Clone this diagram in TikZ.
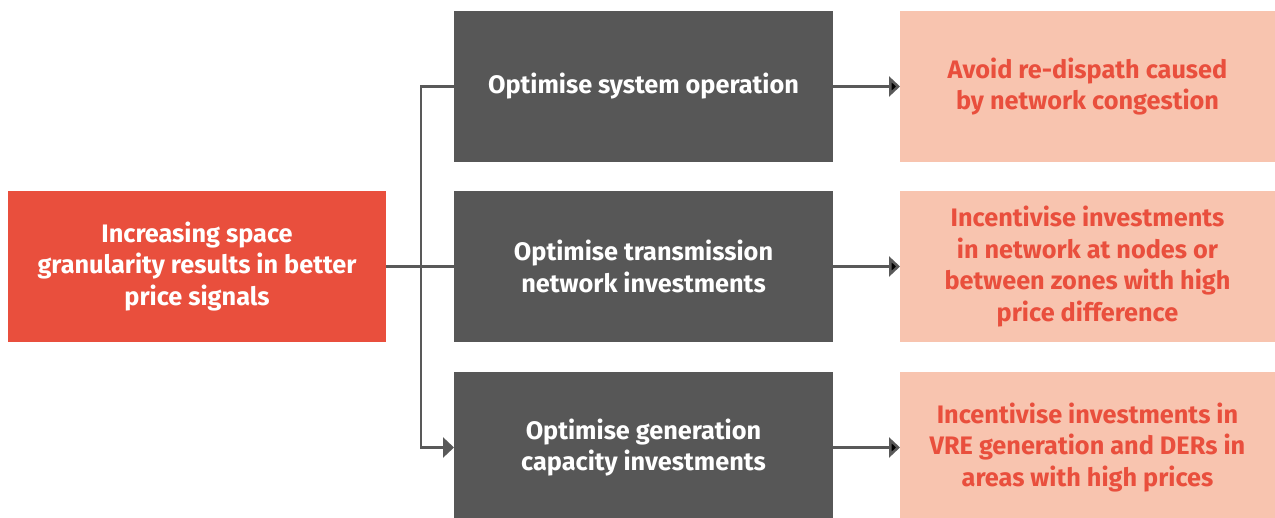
\documentclass[tikz,border=0pt]{standalone}
\usepackage{fontspec}
\setmainfont{Fira Sans}
\usetikzlibrary{positioning,arrows.meta}
\definecolor{signalred}{HTML}{E94F3D}
\definecolor{boxgrey}{HTML}{575757}
\definecolor{linegrey}{HTML}{595959}
\definecolor{peach}{HTML}{F8C4AF}

\begin{document}
\begin{tikzpicture}[x=1pt,y=-1pt,>={Triangle[length=11pt,width=20pt]},line width=2.6pt,
    base box/.style={minimum height=151pt,inner sep=0pt,outer sep=0pt,align=center,font=\fontsize{25.3}{31.5}\selectfont\bfseries},
    cause node/.style={base box,fill=signalred,text=white,minimum width=378pt},
    effect node/.style={base box,fill=boxgrey,text=white,minimum width=379pt},
    result node/.style={base box,fill=peach,text=signalred,minimum width=375pt}]
                \clip (0,0) rectangle (1275,518);

                \node[cause node] (grain) at (197,266.5) {Increasing space\\granularity results in better\\price signals};
                \node[effect node] (trans) [right=68pt of grain] {Optimise transmission\\network investments};
                \node[effect node] (sysop) [above=29pt of trans] {Optimise system operation};
                \node[effect node] (gencap) [below=30pt of trans] {Optimise generation\\capacity investments};
                \node[result node] (netinv) [right=67pt of trans] {Incentivise investments\\in network at nodes or\\between zones with high\\price difference};
                \node[result node] (redisp) [right=67pt of sysop] {Avoid re-dispath caused\\by network congestion};
                \node[result node] (vreinv) [right=67pt of gencap] {Incentivise investments in\\VRE generation and DERs in\\areas with high prices};
                \coordinate (split) at ([xshift=35pt]grain.east);

                \path[draw=linegrey]
                    (grain) -- (split)
                ;

                \path[draw=linegrey,->]
                    (split) |- (sysop)
                    (split) -- (trans)
                    (split) |- (gencap)
                ;

                \path[draw=linegrey,->]
                    (sysop) edge (redisp)
                    (trans) edge (netinv)
                    (gencap) edge (vreinv)
                ;
            \end{tikzpicture}
\end{document}
